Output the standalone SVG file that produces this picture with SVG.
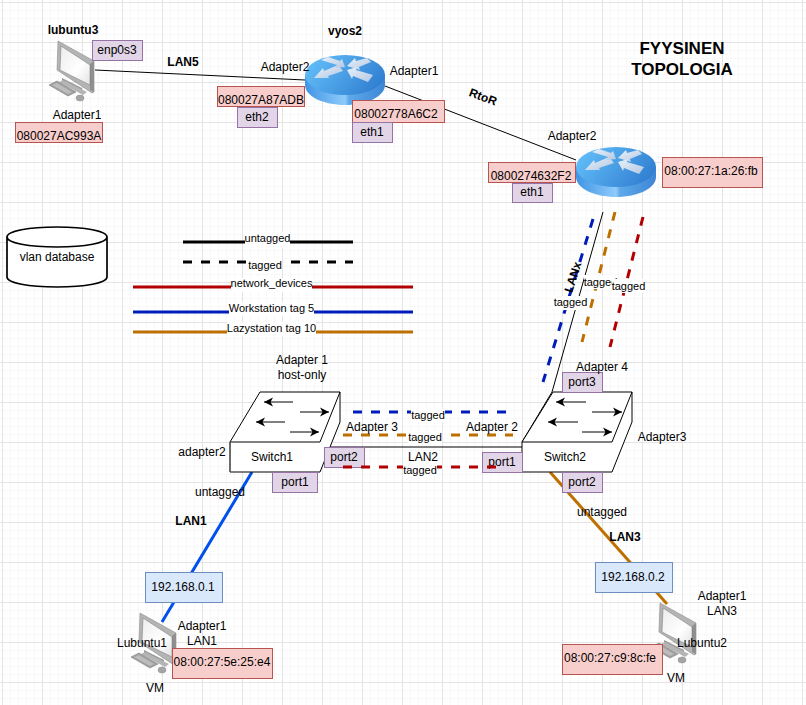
<svg xmlns="http://www.w3.org/2000/svg" width="806" height="705" viewBox="0 0 806 705">
<style>
text{font-family:"Liberation Sans",Arial,sans-serif;font-size:12px;fill:#000;text-anchor:middle}
.b{font-weight:bold}
.s{font-size:11px}
.t{font-size:17px;font-weight:bold}
.red{fill:#f8cecc;stroke:#b85450;stroke-width:1}
.pur{fill:#e1d5e7;stroke:#9673a6;stroke-width:1}
.blu{fill:#dae8fc;stroke:#6c8ebf;stroke-width:1}
.w{fill:#fff;stroke:none}
.sw{fill:#fff;stroke:#000;stroke-width:1;stroke-linejoin:round}
.c{fill:none;stroke:#000;stroke-width:1}
.ar{stroke:#000;stroke-width:1;fill:none;marker-end:url(#ah)}
.d3{fill:none;stroke-width:3;stroke-dasharray:9 9}
</style>
<defs>
<pattern id="gmin" patternUnits="userSpaceOnUse" x="2" y="2" width="8" height="8"><path d="M0.5 0V8M0 0.5H8" stroke="#f8f8f8" stroke-width="1" fill="none"/></pattern>
<pattern id="gmaj" patternUnits="userSpaceOnUse" x="2" y="2" width="40" height="40"><path d="M0.5 0V40M0 0.5H40" stroke="#e4e4e4" stroke-width="1" fill="none"/></pattern>
<marker id="ah" markerWidth="10" markerHeight="10" refX="9" refY="5" orient="auto" markerUnits="userSpaceOnUse"><path d="M0 0.500L9 5L0 9.500L2.500 5Z" fill="#000"/></marker>
<linearGradient id="rb" x1="0" x2="1" y1="0" y2="0"><stop offset="0" stop-color="#3f94e4"/><stop offset=".5" stop-color="#8fcbfb"/><stop offset=".55" stop-color="#5ea8ea"/><stop offset="1" stop-color="#3d86d6"/></linearGradient>
<linearGradient id="rt" x1="0" x2="1" y1="0.3" y2="0.7"><stop offset="0" stop-color="#62bdf8"/><stop offset="1" stop-color="#2f7dd0"/></linearGradient>
<linearGradient id="ra" x1="0" x2="1" y1="0" y2="1"><stop offset="0" stop-color="#e8f1fb"/><stop offset="1" stop-color="#b4c8e2"/></linearGradient>
<linearGradient id="sc" x1="0" x2="1" y1="0" y2="1"><stop offset="0" stop-color="#ececec"/><stop offset=".6" stop-color="#ffffff"/><stop offset="1" stop-color="#e2e2e2"/></linearGradient>
<g id="pc">
<polygon points="13,38 33,48 33,53 13,43" fill="#9a9a9a"/>
<polygon points="10,42 14,40 38,52 34,55" fill="#b5b5b5"/>
<polygon points="9,1 45,21 45,52 43,53 8,30" fill="#b4b4b4" stroke="#8c8c8c" stroke-width=".6"/>
<polygon points="41,24 45,21 45,52 41,50" fill="#8f8f8f"/>
<polygon points="12,6 41,25 41,45 11,30" fill="url(#sc)" stroke="#777" stroke-width=".5"/>
<polygon points="0,45 8,41 27,52 19,56" fill="#a0a0a0" stroke="#808080" stroke-width=".6"/>
<polygon points="3,45 8,43 23,52 19,54" fill="#bcbcbc"/>
<ellipse cx="31" cy="58" rx="4" ry="3" fill="#a5a5a5" stroke="#888" stroke-width=".5"/>
</g>
<g id="rtr">
<path d="M0 20V30C0 41 18 50 40 50S80 41 80 30V20Z" fill="url(#rb)"/>
<ellipse cx="40" cy="20" rx="40" ry="20" fill="url(#rt)"/>
<polygon points="9,23 18,13 19,16 33,10 38,16 23,21 24,23" fill="url(#ra)"/>
<polygon points="16,5 23,2 35,6 37,4 40,12 30,13 32,10" fill="url(#ra)"/>
<polygon points="42,11 50,3 51,6 62,3 66,7 54,12 55,15" fill="url(#ra)"/>
<polygon points="42,15 52,12 51,15 68,20 63,27 48,21 47,24" fill="url(#ra)"/>
</g>
</defs>
<rect width="806" height="705" fill="#fff"/>
<rect width="806" height="705" fill="url(#gmin)"/>
<rect width="806" height="705" fill="url(#gmaj)"/>

<g id="connectors">
<path class="c" d="M95 70L305 80"/>
<path class="c" d="M385 86L576 160"/>
<path class="c" d="M603 212L552 392L522 442"/>
<path class="c" d="M320 447H522"/>
<path fill="none" stroke="#0050ef" stroke-width="3" d="M252 472L162 622"/>
<path fill="none" stroke="#bd7000" stroke-width="3" d="M550 472L667 604"/>
<path class="d3" stroke="#001dbc" d="M593 219L543 382"/>
<path class="d3" stroke="#bd7000" d="M615 212L582 342"/>
<path class="d3" stroke="#b20000" d="M643 217L610 347"/>
<path class="d3" stroke="#001dbc" d="M353 412H506"/>
<path class="d3" stroke="#bd7000" d="M343 435H513"/>
</g>

<g id="legend">
<path stroke="#000" stroke-width="3" fill="none" d="M183 242H353"/>
<path stroke="#000" stroke-width="3" fill="none" stroke-dasharray="9 9" d="M183 262H353"/>
<path stroke="#b20000" stroke-width="3" fill="none" d="M133 287H413"/>
<path stroke="#001dbc" stroke-width="3" fill="none" d="M133 312H413"/>
<path stroke="#bd7000" stroke-width="3" fill="none" d="M133 332H413"/>
<rect class="w" x="245" y="232" width="45" height="16"/>
<text class="s" x="267.500" y="242">untagged</text>
<rect class="w" x="248" y="258" width="34" height="14"/>
<text class="s" x="265" y="269">tagged</text>
<rect class="w" x="231" y="278" width="81" height="14"/>
<text class="s" x="271.500" y="287">network_devices</text>
<rect class="w" x="229" y="302" width="85" height="14"/>
<text class="s" x="271.500" y="312">Workstation tag 5</text>
<rect class="w" x="227" y="322" width="89" height="14"/>
<text class="s" x="271.500" y="332">Lazystation tag 10</text>
</g>

<g id="vlan-database">
<path d="M7 237V277C7 283 29 287 57 287S107 283 107 277V237C107 231 85 227 57 227S7 231 7 237C7 243 29 247 57 247S107 243 107 237" fill="#fff" stroke="#000" stroke-width="1.700"/>
<text x="57" y="261">vlan database</text>
</g>

<g id="lubuntu3">
<text class="b" x="73" y="34">lubuntu3</text>
<use href="#pc" x="49" y="40"/>
<rect class="pur" x="92.500" y="40.500" width="50" height="20"/>
<text x="117" y="54">enp0s3</text>
<text x="77" y="119">Adapter1</text>
<rect class="red" x="15.500" y="122.500" width="87" height="20"/>
<text x="59" y="140">080027AC993A</text>
</g>

<g id="vyos2">
<text class="b" x="345" y="35">vyos2</text>
<use href="#rtr" x="305" y="55"/>
<text x="285" y="71">Adapter2</text>
<text x="414" y="75">Adapter1</text>
<rect class="red" x="217.500" y="86.500" width="87" height="20"/>
<text x="261" y="104">080027A87ADB</text>
<rect class="pur" x="237.500" y="107.500" width="40" height="20"/>
<text x="257" y="121">eth2</text>
<rect class="red" x="352.500" y="100.500" width="92" height="22"/>
<text x="396" y="118">08002778A6C2</text>
<rect class="pur" x="352.500" y="122.500" width="40" height="20"/>
<text x="372" y="136">eth1</text>
</g>

<g id="router2">
<use href="#rtr" x="576" y="147"/>
<text x="572" y="140">Adapter2</text>
<rect class="red" x="488.500" y="162.500" width="87" height="20"/>
<text x="531" y="180">0800274632F2</text>
<rect class="pur" x="512.500" y="183.500" width="40" height="19"/>
<text x="532" y="196">eth1</text>
<rect class="red" x="662.500" y="157.500" width="100" height="30"/>
<text x="711" y="175">08:00:27:1a:26:fb</text>
</g>

<g id="title">
<text class="t" x="682" y="54">FYYSINEN</text>
<text class="t" x="682" y="75">TOPOLOGIA</text>
</g>

<g id="switch1">
<path class="sw" d="M230 442L260 392H340V422L320 472H230Z"/>
<path class="c" d="M230 442H320L340 392"/>
<path d="M230 442V472" stroke="#666" stroke-width="1.500"/>
<path class="ar" d="M293 402H264"/>
<path class="ar" d="M300 412H329"/>
<path class="ar" d="M285 422H256"/>
<path class="ar" d="M290 432H319"/>
<text x="272" y="461">Switch1</text>
<rect class="pur" x="272.500" y="472.500" width="45" height="20"/>
<text x="295" y="486">port1</text>
<rect class="pur" x="324.500" y="447.500" width="40" height="20"/>
<text x="344" y="461">port2</text>
<text x="302" y="364">Adapter 1</text>
<text x="302" y="379">host-only</text>
<text x="202" y="456">adapter2</text>
</g>

<g id="switch2">
<path class="sw" d="M522 442L553 392H632V422L612 472H522Z"/>
<path class="c" d="M522 442H612L632 392"/>
<path class="ar" d="M586 402H556"/>
<path class="ar" d="M592 412H622"/>
<path class="ar" d="M578 422H548"/>
<path class="ar" d="M582 432H612"/>
<text x="565" y="461">Switch2</text>
<rect class="pur" x="562.500" y="372.500" width="40" height="20"/>
<text x="582" y="386">port3</text>
<rect class="pur" x="482.500" y="452.500" width="40" height="20"/>
<text x="502" y="466">port1</text>
<rect class="pur" x="562.500" y="472.500" width="40" height="20"/>
<text x="582" y="486">port2</text>
<text x="602" y="371">Adapter 4</text>
<text x="662" y="441">Adapter3</text>
</g>

<g id="links-labels">
<path class="d3" stroke="#b20000" d="M343 467H497"/>
<text class="b" x="183" y="66">LAN5</text>
<text class="b" transform="translate(483 97) rotate(20)" y="4">RtoR</text>
<text class="b" transform="translate(573 277) rotate(-72)" y="4">LANx</text>
<rect class="w" x="554" y="296" width="33" height="14"/>
<text class="s" x="570.500" y="306">tagged</text>
<rect class="w" x="584" y="275" width="28" height="14"/>
<text class="s" x="600.500" y="286">tagged</text>
<rect class="w" x="612" y="279" width="33" height="14"/>
<text class="s" x="628.500" y="290">tagged</text>
<rect class="w" x="411" y="409" width="34" height="13"/>
<text class="s" x="428" y="419">tagged</text>
<rect class="w" x="408" y="431" width="34" height="13"/>
<text class="s" x="425" y="441">tagged</text>
<text x="372" y="431">Adapter 3</text>
<text x="492" y="431">Adapter 2</text>
<text x="423" y="461">LAN2</text>
<rect class="w" x="403" y="464" width="34" height="12"/>
<text class="s" x="420" y="474">tagged</text>
<text x="220" y="496">untagged</text>
<text class="b" x="191" y="525">LAN1</text>
<text x="602" y="516">untagged</text>
<text class="b" x="625" y="541">LAN3</text>
</g>

<g id="lubuntu1">
<use href="#pc" x="131" y="612"/>
<text x="142" y="647">Lubuntu1</text>
<text x="202" y="630">Adapter1</text>
<text x="202" y="645">LAN1</text>
<text x="155" y="692">VM</text>
<rect class="blu" x="145.500" y="572.500" width="77" height="30"/>
<text x="183" y="591">192.168.0.1</text>
<rect class="red" x="172.500" y="648.500" width="100" height="30"/>
<text x="222" y="666">08:00:27:5e:25:e4</text>
</g>

<g id="lubuntu2">
<use href="#pc" x="651" y="602"/>
<text x="702" y="647">Lubuntu2</text>
<text x="722" y="600">Adapter1</text>
<text x="722" y="615">LAN3</text>
<text x="676" y="682">VM</text>
<rect class="blu" x="595.500" y="562.500" width="77" height="30"/>
<text x="633" y="581">192.168.0.2</text>
<rect class="red" x="562.500" y="644.500" width="100" height="30"/>
<text x="610" y="662">08:00:27:c9:8c:fe</text>
</g>
</svg>
